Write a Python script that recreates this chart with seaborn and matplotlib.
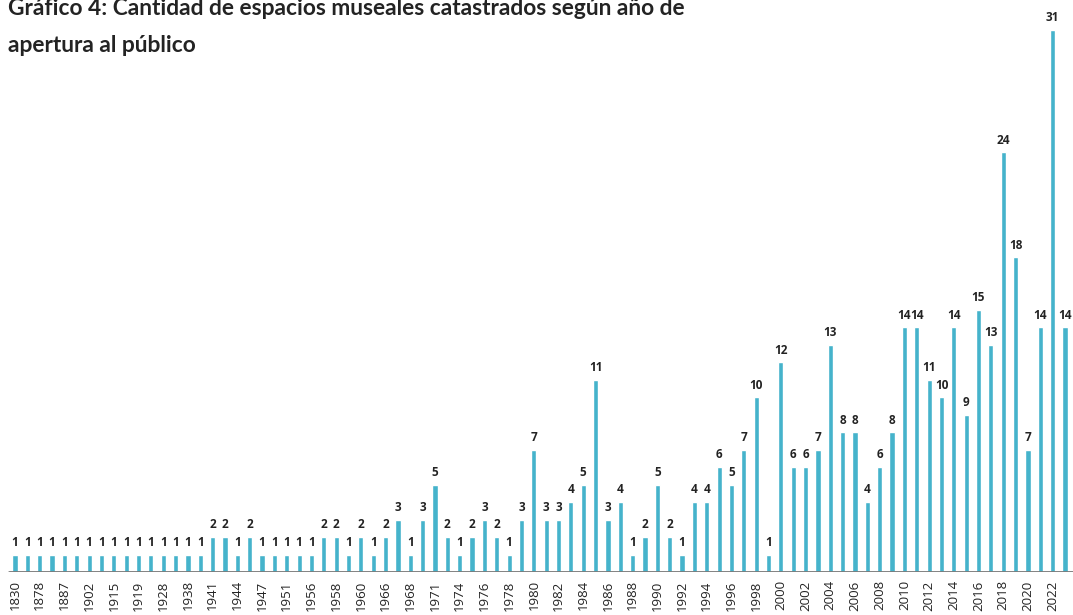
import matplotlib
matplotlib.use('Agg')
import matplotlib.pyplot as plt
import seaborn as sns
import pandas as pd

# años de apertura (solo se rotula uno de cada dos)
years = ['1830', '1860', '1878', '1880', '1887', '1895', '1902', '1910', '1915', '1917',
         '1919', '1925', '1928', '1935', '1938', '1940', '1941', '1942', '1944', '1945',
         '1947', '1949', '1951', '1954', '1956', '1957', '1958', '1959', '1960', '1964',
         '1966', '1967', '1968', '1970', '1971', '1973', '1974', '1975'] + \
        [str(y) for y in range(1976, 2024)]

counts = [1] * 16 + [
    2, 2, 1, 2, 1, 1, 1, 1, 1, 2,
    2, 1, 2, 1, 2, 3, 1, 3, 5, 2,
    1, 2, 3, 2, 1, 3, 7, 3, 3, 4,
    5, 11, 3, 4, 1, 2, 5, 2, 1, 4,
    4, 6, 5, 7, 10, 1, 12, 6, 6, 7,
    13, 8, 8, 4, 6, 8, 14, 14, 11, 10,
    14, 9, 15, 13, 24, 18, 7, 14, 31, 14]

title_1 = 'Gráfico 4: Cantidad de espacios museales catastrados según año de'
title_2 = 'apertura al público'

bar_color = '#45B3CB'
text_color = '#232323'

df = pd.DataFrame({'Año': years, 'Cantidad': counts})

sns.set_style('white')
plt.rcParams['font.family'] = ['Open Sans', 'DejaVu Sans']

fig = plt.figure(figsize=(10.73, 6.15), dpi=100)
ax = fig.add_axes([0, 43 / 615, 1, 572 / 615])

sns.barplot(data=df, x='Año', y='Cantidad', color=bar_color, width=0.42,
            saturation=1, ax=ax)

ax.bar_label(ax.containers[0], padding=4, fontsize=8.5, fontweight='bold',
             color=text_color)

n = len(years)
ax.set_xlim(-15 / 12.353, (n - 1) + 8 / 12.353)
ax.set_ylim(0, 32.7)

ax.set_xticks(range(n))
ax.set_xticklabels([y if i % 2 == 0 else '' for i, y in enumerate(years)],
                   rotation=90, fontsize=9.5, color=text_color, fontweight='medium')
ax.tick_params(axis='x', length=0, pad=6)
ax.set_yticks([])
ax.set_xlabel('')
ax.set_ylabel('')
for s in ax.spines.values():
    s.set_visible(False)
ax.axhline(0, xmin=9 / 1073, xmax=1, color='#777777', linewidth=2, zorder=5)

fig.text(8 / 1073, 1 - 15 / 615, title_1, fontsize=16.4, fontweight='bold',
         family=['Lato', 'DejaVu Sans'], color=text_color, va='baseline')
fig.text(8 / 1073, 1 - 52 / 615, title_2, fontsize=16.4, fontweight='bold',
         family=['Lato', 'DejaVu Sans'], color=text_color, va='baseline')

fig.savefig('out.png', dpi=100)
